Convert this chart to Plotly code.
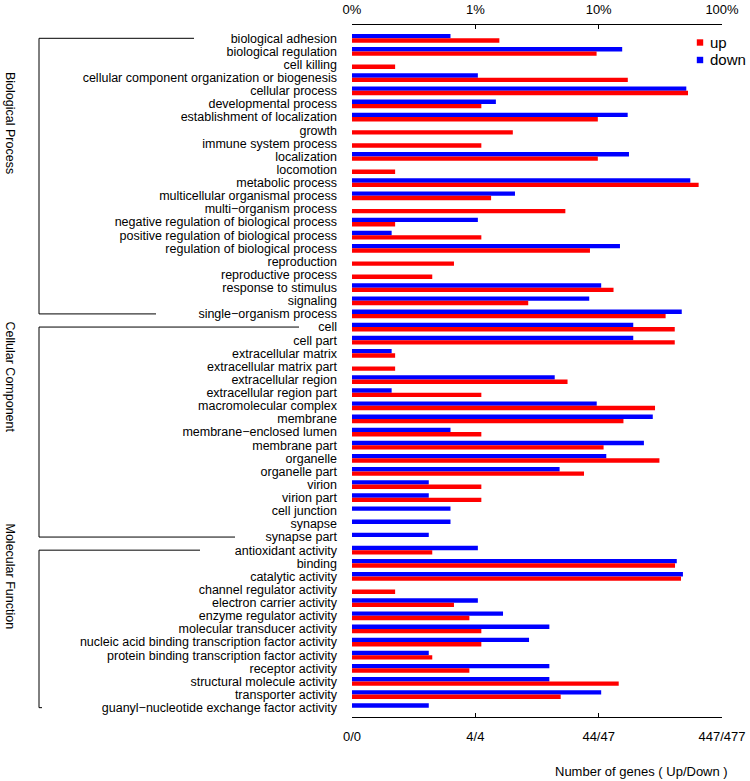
import plotly.graph_objects as go

# ---------------- data ----------------
categories = [
    "biological adhesion", "biological regulation", "cell killing",
    "cellular component organization or biogenesis", "cellular process",
    "developmental process", "establishment of localization", "growth",
    "immune system process", "localization", "locomotion", "metabolic process",
    "multicellular organismal process", "multi\u2212organism process",
    "negative regulation of biological process",
    "positive regulation of biological process",
    "regulation of biological process", "reproduction", "reproductive process",
    "response to stimulus", "signaling", "single\u2212organism process",
    "cell", "cell part", "extracellular matrix", "extracellular matrix part",
    "extracellular region", "extracellular region part",
    "macromolecular complex", "membrane", "membrane\u2212enclosed lumen",
    "membrane part", "organelle", "organelle part", "virion", "virion part",
    "cell junction", "synapse", "synapse part",
    "antioxidant activity", "binding", "catalytic activity",
    "channel regulator activity", "electron carrier activity",
    "enzyme regulator activity", "molecular transducer activity",
    "nucleic acid binding transcription factor activity",
    "protein binding transcription factor activity", "receptor activity",
    "structural molecule activity", "transporter activity",
    "guanyl\u2212nucleotide exchange factor activity",
]
up_counts = [7, 43, 1, 77, 237, 5, 44, 9, 5, 44, 1, 289, 6, 24, 1, 5, 38, 3, 2,
             59, 12, 156,
             185, 185, 1, 1, 25, 5, 128, 71, 5, 49, 139, 34, 5, 5, 0, 0, 0,
             2, 186, 208, 1, 3, 4, 5, 5, 2, 4, 65, 22, 0]
down_counts = [3, 74, 0, 5, 245, 7, 82, 0, 0, 84, 0, 264, 10, 0, 5, 1, 71, 0, 0,
               50, 40, 225,
               91, 91, 1, 0, 21, 1, 46, 131, 3, 111, 55, 23, 2, 2, 3, 3, 2,
               5, 205, 230, 0, 5, 8, 19, 13, 2, 19, 19, 50, 2]
UP_TOTAL = 447
DOWN_TOTAL = 477
group_names = ["Biological Process", "Cellular Component", "Molecular Function"]
group_first = [0, 22, 39]
group_last = [21, 38, 51]
pct_tickvals = [0.1, 1, 10, 100]
top_ticktext = ["0%", "1%", "10%", "100%"]
bottom_ticktext = ["0/0", "4/4", "44/47", "447/477"]
legend_names = ["up", "down"]

up_pct = [c / UP_TOTAL * 100 if c > 0 else None for c in up_counts]
down_pct = [c / DOWN_TOTAL * 100 if c > 0 else None for c in down_counts]

# ---------------- style / layout constants ----------------
W, H = 750, 781
ML, MR, MT, MB = 352, 28, 25, 64
PW = W - ML - MR
PH = H - MT - MB
ROW_PX = 13.125
FIRST_ROW_Y = 38.3
FONT = "Liberation Sans, Arial, Helvetica, sans-serif"
RED = "#FF0000"
BLUE = "#0000FF"

y_top = -(FIRST_ROW_Y - MT) / ROW_PX
y_bottom = (H - MB - FIRST_ROW_Y) / ROW_PX


def px_x(x):
    return (x - ML) / PW


def px_y(y):
    return 1 - (y - MT) / PH


fig = go.Figure()
fig.add_trace(go.Bar(y=categories, x=down_pct, orientation="h", name="down",
                     marker=dict(color=BLUE, line=dict(width=0)),
                     showlegend=False))
fig.add_trace(go.Bar(y=categories, x=up_pct, orientation="h", name="up",
                     marker=dict(color=RED, line=dict(width=0)),
                     showlegend=False))
# invisible trace to carry the top percentage axis
fig.add_trace(go.Scatter(x=[pct_tickvals[0], pct_tickvals[-1]],
                         y=[categories[0], categories[0]], xaxis="x2",
                         mode="lines", line=dict(width=0), opacity=0,
                         hoverinfo="skip", showlegend=False))

shapes = []
bracket_x = 39
bracket_top_end = [194, 299, 200]
bracket_bot_end = [156, 235, 42]
for i in range(3):
    y0 = group_first[i]
    y1 = group_last[i]
    line = dict(color="black", width=1)
    shapes.append(dict(type="line", xref="paper", yref="y",
                       x0=px_x(bracket_x), x1=px_x(bracket_x), y0=y0, y1=y1, line=line))
    shapes.append(dict(type="line", xref="paper", yref="y",
                       x0=px_x(bracket_x), x1=px_x(bracket_top_end[i]), y0=y0, y1=y0, line=line))
    shapes.append(dict(type="line", xref="paper", yref="y",
                       x0=px_x(bracket_x), x1=px_x(bracket_bot_end[i]), y0=y1, y1=y1, line=line))

annotations = []
group_label_y = [122.5, 377, 576]
for name, gy in zip(group_names, group_label_y):
    annotations.append(dict(text=name, textangle=90, xref="paper", yref="paper",
                            x=px_x(9.5), y=px_y(gy), showarrow=False,
                            xanchor="center", yanchor="middle",
                            font=dict(family=FONT, size=12.5, color="black")))

# legend (drawn manually to match the compact R-style legend)
legend_colors = [RED, BLUE]
legend_y = [42.5, 60]
for name, col, ly in zip(legend_names, legend_colors, legend_y):
    shapes.append(dict(type="rect", xref="paper", yref="paper",
                       x0=px_x(696.8), x1=px_x(703.2), y0=px_y(ly - 3.2), y1=px_y(ly + 3.2),
                       fillcolor=col, line=dict(width=0)))
    annotations.append(dict(text=name, xref="paper", yref="paper",
                            x=px_x(707.5), y=px_y(ly), showarrow=False,
                            xanchor="left", yanchor="middle",
                            font=dict(family=FONT, size=15, color="black")))

annotations.append(dict(text="Number of genes ( Up/Down )", xref="paper", yref="paper",
                        x=px_x(641), y=px_y(772), showarrow=False,
                        xanchor="center", yanchor="middle",
                        font=dict(family=FONT, size=13, color="black")))

axis_common = dict(type="log", range=[-1, 2], tickvals=pct_tickvals,
                   ticks="inside", ticklen=4, tickcolor="black", tickwidth=1,
                   showline=True, linecolor="black", linewidth=1,
                   showgrid=False, zeroline=False, automargin=False,
                   tickfont=dict(family=FONT, size=13, color="black"))

fig.update_layout(
    width=W, height=H,
    margin=dict(l=ML, r=MR, t=MT, b=MB, pad=0, autoexpand=False),
    paper_bgcolor="white", plot_bgcolor="white",
    barmode="group", bargap=0.33, bargroupgap=0,
    showlegend=False,
    xaxis=dict(**axis_common, ticktext=bottom_ticktext, side="bottom",
               ticklabelstandoff=7),
    xaxis2=dict(**axis_common, ticktext=top_ticktext, side="top",
                overlaying="x", ticklabelstandoff=5),
    yaxis=dict(type="category", categoryorder="array", categoryarray=categories,
               tickmode="array", tickvals=categories, ticktext=categories,
               range=[y_bottom, y_top], ticks="", showline=False, showgrid=False,
               zeroline=False, ticklabelstandoff=14, automargin=False,
               tickfont=dict(family=FONT, size=12.5, color="black")),
    shapes=shapes,
    annotations=annotations,
    font=dict(family=FONT, color="black"),
)

fig.write_html("out.html", config={"displayModeBar": False},
               post_script="document.body.style.margin='0';document.body.style.padding='0';")
